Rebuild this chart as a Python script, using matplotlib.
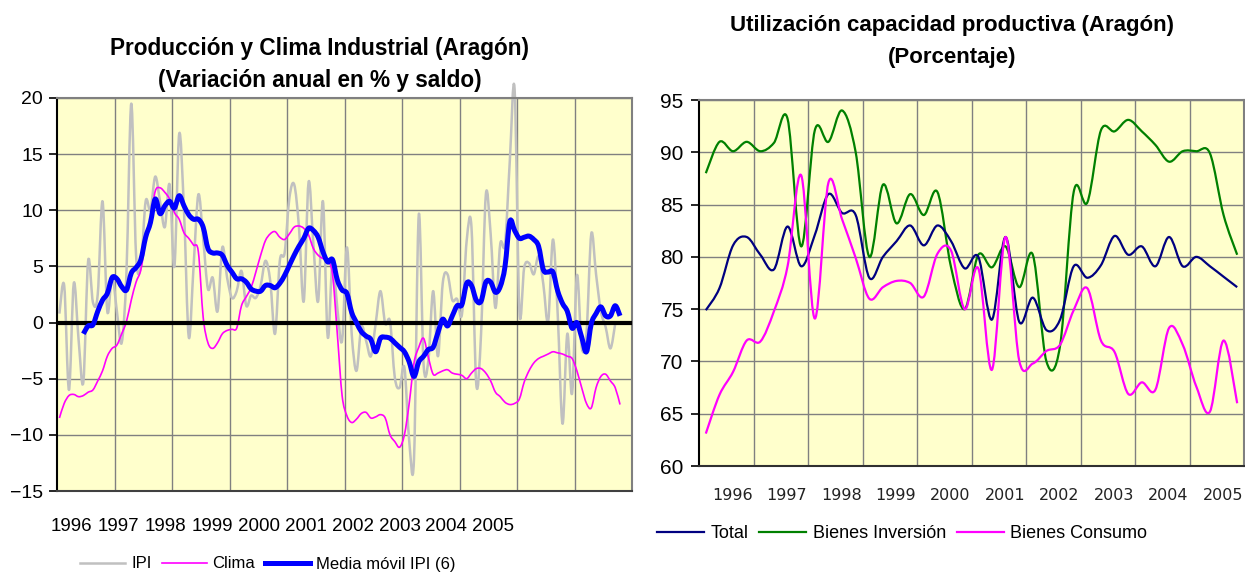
import numpy as np
import matplotlib
matplotlib.use('Agg')
import matplotlib.pyplot as plt
from matplotlib.path import Path
from matplotlib.patches import PathPatch
from matplotlib.lines import Line2D

plt.rcParams['font.family'] = ['Liberation Sans', 'DejaVu Sans']

years = ['1996', '1997', '1998', '1999', '2000', '2001', '2002', '2003', '2004', '2005']

# --- izquierda: datos mensuales (variacion anual en % y saldo)
ipi = [0.8, 3.3, -6.0, 3.5, -1.5, -5.3, 5.5, 1.8, 2.5, 10.8,
       1.0, 4.2, 1.0, -1.8, 4.5, 19.5, 6.0, 5.0, 10.8, 10.0,
       13.0, 10.8, 8.5, 12.3, 5.0, 16.8, 10.0, -1.3, 5.0, 11.4,
       7.5, 3.0, 4.0, 1.0, 6.7, 4.0, 2.2, 2.8, 4.6, 1.5,
       2.4, 2.2, 3.3, 5.5, 3.7, -1.0, 5.5, 6.2, 11.1, 12.3,
       8.5, 1.9, 12.5, 7.0, 1.9, 10.8, -1.3, 5.5, 1.3, -1.6,
       6.7, -1.0, -4.3, -0.4, -1.6, -3.0, -0.1, 2.8, -0.1, 0.1,
       -4.9, -5.8, -4.0, -10.5, -12.2, 9.6, -3.7, -3.4, 2.8, -3.0,
       3.5, 4.3, 2.0, 2.1, 0.7, 7.3, 8.5, -5.5, -1.0, 11.4,
       7.9, 1.3, 7.0, 7.0, 14.4, 20.8, 1.0, 4.9, 5.3, 4.3,
       5.9, 3.4, 0.1, 7.4, 0.7, -9.0, -1.0, -6.3, 4.2, -2.2,
       -1.0, 7.9, 4.3, 1.0, -0.4, -2.3, -0.1]

clima = [-8.5, -7.2, -6.5, -6.4, -6.6, -6.5, -6.2, -6.0, -5.2, -4.3,
         -3.0, -2.3, -2.0, -1.0, 0.1, 2.0, 3.6, 4.7, 7.3, 9.1,
         11.7, 12.0, 11.6, 11.0, 9.8, 9.2, 8.0, 7.5, 6.9, 6.3,
         0.5, -1.8, -2.3, -1.8, -1.0, -0.7, -0.6, -0.5, 1.5, 2.3,
         3.1, 4.5, 6.0, 7.3, 7.9, 8.1, 7.6, 7.4, 7.9, 8.5,
         8.6, 8.4, 7.8, 6.6, 6.0, 5.7, 5.5, 4.3, -1.0, -6.5,
         -8.3, -8.9, -8.6, -8.1, -8.0, -8.5, -8.4, -8.2, -8.5, -10.0,
         -10.6, -11.1, -10.0, -7.2, -3.6, -2.2, -1.4, -3.1, -4.6, -4.5,
         -4.3, -4.2, -4.5, -4.6, -4.7, -5.0, -4.5, -4.1, -4.1, -4.5,
         -5.2, -6.2, -6.6, -7.1, -7.3, -7.2, -6.8, -5.3, -4.3, -3.6,
         -3.2, -3.0, -2.8, -2.6, -2.7, -2.8, -3.0, -3.2, -4.3, -5.8,
         -7.2, -7.6, -5.8, -4.8, -4.6, -5.2, -5.8, -7.3]

# media movil de 6 meses: empieza en el sexto mes
media_ipi = [np.nan] * 5 + [
    -1.0, -0.3, -0.2, 1.0, 2.0,
    2.6, 4.0, 3.9, 3.2, 2.9, 4.4, 4.9, 5.6, 7.6, 8.9,
    11.0, 9.7, 10.4, 10.8, 10.2, 11.3, 10.4, 9.6, 9.2, 9.2,
    8.5, 6.6, 6.2, 6.2, 6.0, 5.1, 4.5, 3.9, 3.9, 3.6,
    3.0, 2.8, 2.8, 3.3, 3.3, 3.1, 3.5, 4.2, 5.1, 6.0,
    6.8, 7.5, 8.4, 8.2, 7.6, 6.3, 5.4, 5.6, 3.8, 2.9,
    2.6, 0.9, 0.0, -0.8, -1.2, -1.5, -2.6, -1.4, -1.3, -1.4,
    -1.8, -2.2, -2.6, -3.5, -4.8, -3.5, -3.0, -2.4, -2.2, -0.9,
    0.3, -0.3, 0.6, 1.5, 1.6, 3.5, 3.3, 2.0, 1.9, 3.6,
    3.6, 2.7, 3.2, 5.0, 9.0, 8.2, 7.5, 7.6, 7.7, 7.4,
    6.8, 4.7, 4.5, 4.5, 2.8, 1.7, 1.0, -0.5, 0.0, -1.3,
    -2.6, -0.1, 0.8, 1.4, 0.6, 0.6, 1.5, 0.6]

# --- derecha: datos trimestrales (porcentaje)
total = [74.9, 77.0, 81.1, 81.9, 80.2, 78.8, 82.9, 79.1, 82.1, 86.0,
         84.2, 84.0, 78.0, 80.0, 81.5, 83.0, 81.1, 83.0, 81.5, 78.9,
         80.0, 74.0, 81.9, 73.8, 76.1, 73.0, 74.0, 79.1, 78.0, 79.2,
         82.0, 80.2, 81.0, 79.1, 81.9, 79.1, 80.0, 79.1, 78.1, 77.1]

inversion = [88.0, 91.0, 90.1, 91.0, 90.1, 90.9, 93.2, 81.0, 92.1, 91.0,
             94.0, 90.0, 80.0, 86.9, 83.2, 86.0, 84.0, 86.2, 79.0, 75.0,
             80.2, 79.0, 81.0, 77.1, 80.2, 70.0, 71.5, 86.2, 85.2, 92.1,
             92.0, 93.1, 92.0, 90.7, 89.1, 90.1, 90.1, 89.9, 84.0, 80.2]

consumo = [63.1, 66.8, 69.0, 72.0, 71.9, 74.8, 79.1, 87.8, 74.1, 87.1,
           83.6, 79.9, 76.0, 77.1, 77.7, 77.5, 76.2, 80.3, 80.6, 75.0,
           78.9, 69.2, 81.9, 70.1, 69.8, 71.0, 71.6, 74.9, 77.0, 72.0,
           70.9, 66.9, 68.0, 67.3, 73.2, 71.6, 67.6, 65.2, 72.0, 66.0]


def smooth_path(xs, ys):
    # linea suavizada tipo Excel (bezier que pasa por los puntos)
    xs = np.asarray(xs, float)
    ys = np.asarray(ys, float)
    ok = ~np.isnan(ys)
    pts = np.column_stack([xs[ok], ys[ok]])
    n = len(pts)
    verts = [tuple(pts[0])]
    codes = [Path.MOVETO]
    for k in range(n - 1):
        p0 = pts[max(k - 1, 0)]
        p1 = pts[k]
        p2 = pts[k + 1]
        p3 = pts[min(k + 2, n - 1)]
        verts += [tuple(p1 + (p2 - p0) / 6), tuple(p2 - (p3 - p1) / 6), tuple(p2)]
        codes += [Path.CURVE4] * 3
    return Path(verts, codes)


def linea(ax, xs, ys, color, lw, z, clip=True):
    ax.add_patch(PathPatch(smooth_path(xs, ys), fill=False, edgecolor=color,
                           lw=lw, zorder=z, clip_on=clip, joinstyle='round',
                           capstyle='butt'))


W, H = 1245, 574
fig = plt.figure(figsize=(W / 100, H / 100), dpi=100)
fondo = '#FFFFCC'
rejilla = '#808080'

# ================= grafico izquierdo
ax1 = fig.add_axes([57 / W, 1 - 491 / H, 575 / W, 393 / H])
ax1.set_facecolor(fondo)
ax1.set_axisbelow(True)
ax1.set_xlim(-0.5, 119.5)
ax1.set_ylim(-15, 20)
ax1.set_yticks(range(-15, 21, 5))
ax1.set_xticks(np.arange(11.5, 119, 12))
ax1.tick_params(axis='x', which='major', length=0, labelbottom=False)
ax1.set_xticks(2.6 + 9.77 * np.arange(len(years)), minor=True)
ax1.set_xticklabels(years, minor=True, fontsize=13.5)
ax1.tick_params(axis='x', which='minor', length=0, pad=19.5)
ax1.tick_params(axis='y', length=6, width=1.2, labelsize=14, pad=4)
ax1.grid(True, which='major', color=rejilla, lw=1.0)

linea(ax1, np.arange(len(ipi)), ipi, '#C0C0C0', 1.8, 2, clip=False)
linea(ax1, np.arange(len(clima)), clima, '#FF00FF', 1.2, 3)
ax1.axhline(0, color='black', lw=3, zorder=3)
linea(ax1, np.arange(len(media_ipi)), media_ipi, '#0000FF', 3.6, 4)

for s in ['top', 'right']:
    ax1.spines[s].set_color(rejilla)
    ax1.spines[s].set_linewidth(1.5)
ax1.spines['left'].set_color('black')
ax1.spines['left'].set_linewidth(1.5)
ax1.spines['bottom'].set_color('#404040')
ax1.spines['bottom'].set_linewidth(1.5)

fig.text(320 / W, 1 - 48 / H, 'Producción y Clima Industrial (Aragón)',
         ha='center', va='center', fontsize=16.3, fontweight='bold')
fig.text(320 / W, 1 - 80 / H, '(Variación anual en % y saldo)',
         ha='center', va='center', fontsize=16.3, fontweight='bold')

h1 = [Line2D([], [], color='#C0C0C0', lw=1.8),
      Line2D([], [], color='#FF00FF', lw=1.2),
      Line2D([], [], color='#0000FF', lw=3.6)]
fig.legend(h1, ['IPI', 'Clima', 'Media móvil IPI (6)'], loc='center',
           bbox_to_anchor=(268 / W, 1 - 564 / H), ncol=3, frameon=False,
           fontsize=12, handlelength=2.7, handletextpad=0.35, columnspacing=0.6)

# ================= grafico derecho
ax2 = fig.add_axes([699 / W, 1 - 466 / H, 545 / W, 366 / H])
ax2.set_facecolor(fondo)
ax2.set_axisbelow(True)
ax2.set_xlim(-0.5, 39.5)
ax2.set_ylim(60, 95)
ax2.set_yticks(range(60, 96, 5))
ax2.set_xticks(np.arange(3.5, 39, 4))
ax2.tick_params(axis='x', which='major', length=0, labelbottom=False)
ax2.set_xticks(1.95 + 4 * np.arange(len(years)), minor=True)
ax2.set_xticklabels(years, minor=True, fontsize=11.5, family='DejaVu Sans',
                    color='#222222')
ax2.tick_params(axis='x', which='minor', length=0, pad=15.5)
ax2.tick_params(axis='y', length=6, width=1.2, labelsize=15, pad=5)
ax2.grid(True, which='major', color=rejilla, lw=1.0)

q = np.arange(len(total))
linea(ax2, q, inversion, '#008000', 1.6, 3)
linea(ax2, q, total, '#000080', 1.6, 3)
linea(ax2, q, consumo, '#FF00FF', 1.6, 3)

for s in ['top', 'right']:
    ax2.spines[s].set_color(rejilla)
    ax2.spines[s].set_linewidth(1.5)
ax2.spines['left'].set_color('black')
ax2.spines['left'].set_linewidth(1.5)
ax2.spines['bottom'].set_color('#303030')
ax2.spines['bottom'].set_linewidth(1.5)

fig.text(952 / W, 1 - 26 / H, 'Utilización capacidad productiva (Aragón)',
         ha='center', va='center', fontsize=16, fontweight='bold')
fig.text(952 / W, 1 - 57 / H, '(Porcentaje)',
         ha='center', va='center', fontsize=16, fontweight='bold')

h2 = [Line2D([], [], color='#000080', lw=1.6),
      Line2D([], [], color='#008000', lw=1.6),
      Line2D([], [], color='#FF00FF', lw=1.6)]
fig.legend(h2, ['Total', 'Bienes Inversión', 'Bienes Consumo'], loc='center',
           bbox_to_anchor=(902 / W, 1 - 534 / H), ncol=3, frameon=False,
           fontsize=13, handlelength=2.6, handletextpad=0.35, columnspacing=0.6)

fig.savefig('out.png', dpi=100)
